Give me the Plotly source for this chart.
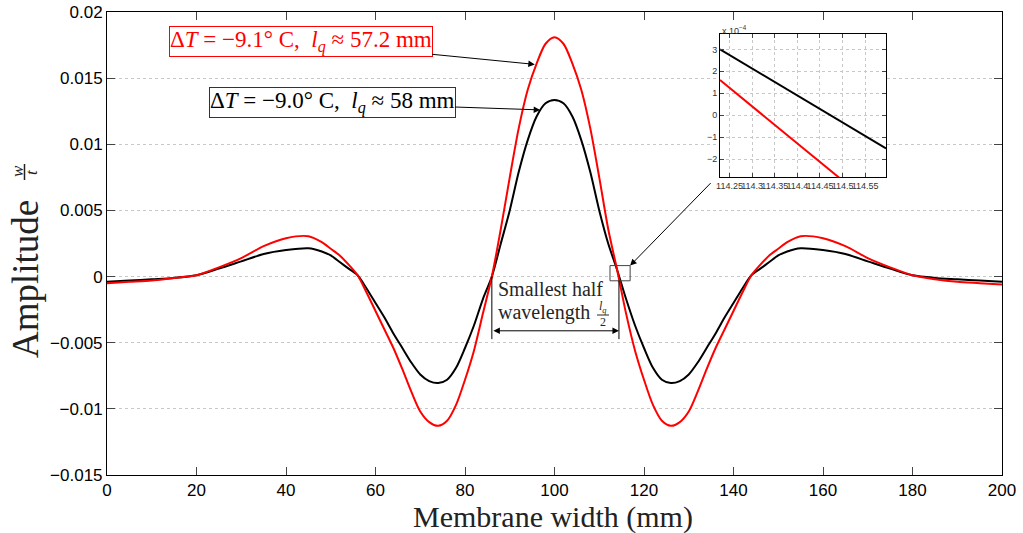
import plotly.graph_objects as go

# ---------------- data ----------------
x_mm = [0, 5, 10, 15, 20, 25, 30, 35, 40, 45, 48, 50, 52, 54, 56, 58, 60, 62, 64, 66,
        68, 70, 72, 74, 76, 78, 80, 82, 84, 86, 88, 90, 92, 94, 96, 98, 100,
        102, 104, 106, 108, 110, 112, 114, 116, 118, 120, 122, 124, 126, 128, 130,
        132, 134, 136, 138, 140, 142, 144, 146, 148, 150, 152, 155, 160, 165, 170,
        175, 180, 185, 190, 195, 200]

w_red = [-0.0005, -0.0004, -0.0003, -0.0001, 0.0001, 0.0007, 0.0014, 0.0023, 0.0029, 0.00305,
         0.0026, 0.0021, 0.0016, 0.0009, 0.0001, -0.0012, -0.0026, -0.0040, -0.0054, -0.0070,
         -0.0087, -0.0102, -0.0110, -0.01128, -0.0109, -0.0097, -0.0078, -0.0056, -0.0028,
         0.0000, 0.0036, 0.0075, 0.0112, 0.0141, 0.0161, 0.0176, 0.0181,
         0.0176, 0.0161, 0.0141, 0.0112, 0.0075, 0.0036, 0.0005, -0.0028, -0.0056, -0.0078,
         -0.0097, -0.0109, -0.01128, -0.0110, -0.0102, -0.0087, -0.0070, -0.0054, -0.0040,
         -0.0026, -0.0012, 0.0001, 0.0009, 0.0016, 0.0021, 0.0026, 0.00305, 0.0029, 0.0023,
         0.0014, 0.0007, 0.0001, -0.0002, -0.0004, -0.0005, -0.0006]

w_black = [-0.0004, -0.0003, -0.0002, -0.0001, 0.0001, 0.0006, 0.00115, 0.0017, 0.0020, 0.00214,
           0.0019, 0.0016, 0.0011, 0.0006, 0.0001, -0.0009, -0.0020, -0.0031, -0.0043, -0.0054,
           -0.0065, -0.0074, -0.0079, -0.00805, -0.0078, -0.0069, -0.0054, -0.0037, -0.0017,
           0.0000, 0.0025, 0.0050, 0.0079, 0.0103, 0.0121, 0.0131, 0.01335,
           0.0131, 0.0121, 0.0103, 0.0079, 0.0050, 0.0025, 0.0005, -0.0017, -0.0037, -0.0054,
           -0.0069, -0.0078, -0.00805, -0.0079, -0.0074, -0.0065, -0.0054, -0.0043, -0.0031,
           -0.0020, -0.0009, 0.0001, 0.0006, 0.0011, 0.0016, 0.0019, 0.00214, 0.0020, 0.0017,
           0.00115, 0.0006, 0.0001, -0.0001, -0.0002, -0.0003, -0.0004]

# inset (zoom near the zero crossing)
inset_x = [114.229, 114.596]
inset_black = [3.0e-4, -1.52e-4]
inset_red = [1.6e-4, -4.6e-4]

x_ticks = [0, 20, 40, 60, 80, 100, 120, 140, 160, 180, 200]
y_ticks = [-0.015, -0.01, -0.005, 0, 0.005, 0.01, 0.015, 0.02]
y_ticktext = ["\u22120.015", "\u22120.01", "\u22120.005", "0", "0.005", "0.01", "0.015", "0.02"]
inset_xticks = [114.25, 114.3, 114.35, 114.4, 114.45, 114.5, 114.55]
inset_xticktext = ["114.25", "114.3", "114.35", "114.4", "114.45", "114.5", "114.55"]
inset_yticks = [-2e-4, -1e-4, 0, 1e-4, 2e-4, 3e-4]
inset_yticktext = ["\u22122", "\u22121", "0", "1", "2", "3"]

# ---------------- geometry helpers (screen pixels) ----------------
W, H = 1023, 533
L, R, T, B = 107, 1002, 12, 475   # plot area


def px(xp):
    return (xp - L) / (R - L)


def py(yp):
    return (B - yp) / (B - T)


SERIF = "Liberation Serif"
SANS = "Liberation Sans"
NB = "\u00a0"

fig = go.Figure()
fig.add_trace(go.Scatter(x=x_mm, y=w_black, mode="lines", showlegend=False,
                         line=dict(color="black", width=2, shape="spline", smoothing=0.8)))
fig.add_trace(go.Scatter(x=x_mm, y=w_red, mode="lines", showlegend=False,
                         line=dict(color="#ff0000", width=2, shape="spline", smoothing=0.8)))
fig.add_trace(go.Scatter(x=inset_x, y=inset_black, mode="lines", showlegend=False,
                         xaxis="x2", yaxis="y2", line=dict(color="black", width=2)))
fig.add_trace(go.Scatter(x=inset_x, y=inset_red, mode="lines", showlegend=False,
                         xaxis="x2", yaxis="y2", line=dict(color="#ff0000", width=2)))

axis_common = dict(showline=True, linecolor="black", linewidth=1, mirror="ticks",
                   ticks="inside", zeroline=False, automargin=False,
                   ticklabeloverflow="allow")

fig.update_layout(
    width=W, height=H,
    margin=dict(l=L, r=W - R, t=T, b=H - B, autoexpand=False),
    paper_bgcolor="white", plot_bgcolor="white",
    xaxis=dict(range=[0, 200], tickvals=x_ticks, ticklen=8, showgrid=False,
               tickfont=dict(family=SANS, size=17, color="black"),
               **axis_common),
    yaxis=dict(range=[-0.015, 0.02], tickvals=y_ticks, ticktext=y_ticktext, ticklen=8,
               showgrid=True, gridcolor="#c8c8c8", griddash="dot", gridwidth=1,
               tickfont=dict(family=SANS, size=17, color="black"),
               **axis_common),
    xaxis2=dict(domain=[px(720), px(886)], anchor="y2", range=[114.229, 114.596],
                tickvals=inset_xticks, ticktext=inset_xticktext, ticklen=4, tickangle=0,
                showgrid=True, gridcolor="#c8c8c8", griddash="dot",
                tickfont=dict(family=SANS, size=9, color="#333"), **axis_common),
    yaxis2=dict(domain=[py(177), py(34)], anchor="x2", range=[-2.82e-4, 3.70e-4],
                tickvals=inset_yticks, ticktext=inset_yticktext, ticklen=4,
                showgrid=True, gridcolor="#c8c8c8", griddash="dot",
                tickfont=dict(family=SANS, size=9, color="#333"), **axis_common),
)


def txt(xp, yp, text, size, color="#222", family=SERIF, angle=0, xanchor="center"):
    return dict(xref="paper", yref="paper", x=px(xp), y=py(yp), text=text, textangle=angle,
                xanchor=xanchor, yanchor="middle", showarrow=False,
                font=dict(family=family, size=size, color=color))


ann = []
# axis labels
ann.append(txt(553, 517, "Membrane width (mm)", 30))
ann.append(txt(25, 279, "Amplitude", 37, angle=-90))
ann.append(txt(17, 171, "<i>w</i>", 17, angle=-90))
ann.append(txt(31, 172, "<i>t</i>", 17, angle=-90))

lbl_red = ("\u0394<i>T</i>" + NB + "=" + NB + "\u22129.1\u00b0" + NB + "C," + NB + NB
           + "<i>l<sub>q</sub></i>" + NB + "\u2248" + NB + "57.2" + NB + "mm")
lbl_blk = ("\u0394<i>T</i>" + NB + "=" + NB + "\u22129.0\u00b0" + NB + "C," + NB + NB
           + "<i>l<sub>q</sub></i>" + NB + "\u2248" + NB + "58" + NB + "mm")
# labelled arrows
ann.append(dict(x=95.6, y=0.01604, xref="x", yref="y", ax=-234, ay=-23,
                text=lbl_red, font=dict(family=SERIF, size=23, color="#ff0000"),
                bgcolor="white", bordercolor="#ff0000", borderwidth=1, borderpad=0,
                showarrow=True, arrowhead=2, arrowsize=1.3, arrowwidth=1, arrowcolor="black"))
ann.append(dict(x=96.8, y=0.0126, xref="x", yref="y", ax=-208, ay=-7,
                text=lbl_blk, font=dict(family=SERIF, size=23, color="black"),
                bgcolor="white", bordercolor="#333", borderwidth=1, borderpad=0,
                showarrow=True, arrowhead=2, arrowsize=1.3, arrowwidth=1, arrowcolor="black"))
# arrow from inset to zoom rectangle
ann.append(dict(x=116.9, y=0.00083, xref="x", yref="y", ax=82, ay=-84, text="",
                showarrow=True, arrowhead=2, arrowsize=1.3, arrowwidth=1, arrowcolor="black"))
# half-wavelength dimension arrow
ann.append(dict(x=114.4, y=-0.0041, xref="x", yref="y", ax=86.0, ay=-0.0041,
                axref="x", ayref="y", text="", showarrow=True, arrowside="end+start",
                arrowhead=2, arrowsize=1.3, arrowwidth=1, arrowcolor="black"))
ann.append(txt(496, 289, "Smallest half", 20, color="#262626", xanchor="left"))
ann.append(txt(496, 312, "wavelength", 20, color="#262626", xanchor="left"))
ann.append(txt(603, 307, "<i>l<sub>q</sub></i>", 12, color="#262626"))
ann.append(txt(603, 322, "2", 12, color="#262626"))
# inset exponent
ann.append(txt(720, 30, "x 10<sup>\u22124</sup>", 9, color="#333", family=SANS, xanchor="left"))
fig.update_layout(annotations=ann)

shapes = []
shapes.append(dict(type="line", xref="paper", yref="paper", x0=px(24.5), x1=px(24.5),
                   y0=py(164), y1=py(180), line=dict(color="#222", width=1.5)))
shapes.append(dict(type="line", xref="paper", yref="paper", x0=px(597), x1=px(609),
                   y0=py(315), y1=py(315), line=dict(color="#262626", width=1)))
shapes.append(dict(type="rect", xref="x", yref="y", x0=112.4, x1=116.9, y0=-0.00032, y1=0.00083,
                   line=dict(color="#444", width=1)))
shapes.append(dict(type="line", xref="x", yref="y", x0=86.0, x1=86.0, y0=0.0, y1=-0.00473,
                   line=dict(color="black", width=1)))
shapes.append(dict(type="line", xref="x", yref="y", x0=114.4, x1=114.4, y0=-0.0003, y1=-0.00473,
                   line=dict(color="black", width=1)))
fig.update_layout(shapes=shapes)

fig.write_html("out.html", config={"displayModeBar": False},
               post_script="document.body.style.margin='0';")
